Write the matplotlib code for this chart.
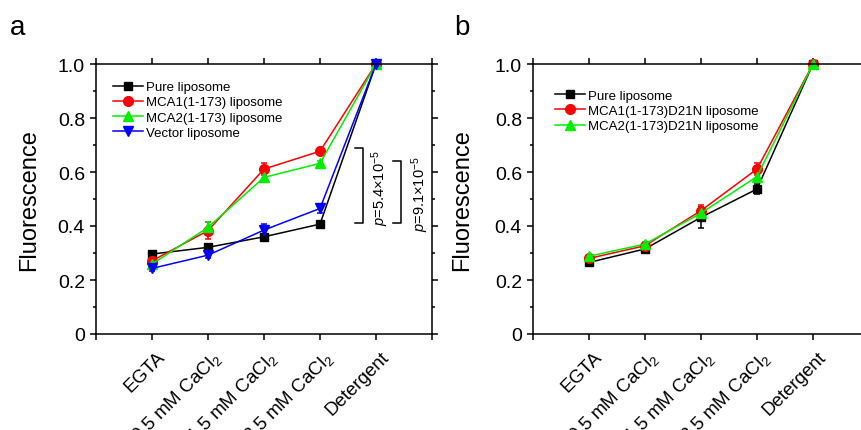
import matplotlib
matplotlib.use("Agg")
import matplotlib.pyplot as plt
import matplotlib.transforms as mtransforms
from matplotlib.ticker import MultipleLocator
from matplotlib.lines import Line2D

plt.rcParams['font.family'] = ['Liberation Sans', 'DejaVu Sans']
plt.rcParams['mathtext.fontset'] = 'custom'
plt.rcParams['mathtext.rm'] = 'Liberation Sans'
plt.rcParams['mathtext.it'] = 'Liberation Sans:italic'

categories = ['EGTA', '0.5 mM CaCl$_2$', '1.5 mM CaCl$_2$', '2.5 mM CaCl$_2$', 'Detergent']
xpos = [1, 2, 3, 4, 5]

# Panel a
a_pure = [0.296, 0.321, 0.360, 0.407, 1.0]
a_pure_err = [0.005, 0.008, 0.008, 0.006, 0.0]
a_mca1 = [0.271, 0.383, 0.611, 0.677, 1.0]
a_mca1_err = [0.010, 0.030, 0.022, 0.010, 0.0]
a_mca2 = [0.259, 0.395, 0.580, 0.632, 1.0]
a_mca2_err = [0.008, 0.020, 0.018, 0.008, 0.0]
a_vec = [0.243, 0.292, 0.385, 0.465, 1.0]
a_vec_err = [0.008, 0.010, 0.022, 0.015, 0.0]

# Panel b
b_pure = [0.265, 0.315, 0.432, 0.537, 1.0]
b_pure_err = [0.006, 0.008, 0.040, 0.020, 0.0]
b_mca1 = [0.280, 0.327, 0.457, 0.611, 1.0]
b_mca1_err = [0.006, 0.008, 0.020, 0.022, 0.0]
b_mca2 = [0.288, 0.333, 0.448, 0.583, 1.0]
b_mca2_err = [0.006, 0.008, 0.020, 0.020, 0.0]

a_labels = ['Pure liposome', 'MCA1(1-173) liposome', 'MCA2(1-173) liposome', 'Vector liposome']
b_labels = ['Pure liposome', 'MCA1(1-173)D21N liposome', 'MCA2(1-173)D21N liposome']
colors = ['#000000', '#ff0000', '#00ee00', '#0000ff']
markers = ['s', 'o', '^', 'v']
msizes = [6, 7, 7.5, 7.5]

W, H = 862, 431
fig = plt.figure(figsize=(W / 100, H / 100), dpi=100)

def px_axes(x0, y_top, w, h):
    return fig.add_axes([x0 / W, (H - y_top - h) / H, w / W, h / H])

axa = px_axes(96, 65, 336, 270)
axb = px_axes(533, 65, 336, 270)

def style(ax, ylabel_x):
    ax.set_xlim(0, 6)
    ax.set_ylim(0, 1.0)
    ax.set_xticks([0, 1, 2, 3, 4, 5, 6])
    ax.set_xticklabels([''] * 7)
    offset = mtransforms.ScaledTranslation(10 / 100, -20 / 100, fig.dpi_scale_trans)
    tr = ax.get_xaxis_transform() + offset
    for x, lab in zip(xpos, categories):
        ax.text(x, 0, lab, transform=tr, rotation=45, ha='right', va='center',
                rotation_mode='anchor', fontsize=13.5, clip_on=False)
    ax.yaxis.set_minor_locator(MultipleLocator(0.1))
    ax.set_yticks([0, 0.2, 0.4, 0.6, 0.8, 1.0])
    ax.set_yticklabels(['0', '0.2', '0.4', '0.6', '0.8', '1.0'], fontsize=14)
    ax.tick_params(which='both', direction='out', top=True, right=True, width=1.1)
    ax.tick_params(which='major', length=4, pad=4)
    ax.tick_params(which='minor', length=2.5)
    ax.tick_params(axis='x', which='minor', top=False, bottom=False)
    for s in ax.spines.values():
        s.set_linewidth(1.1)
    ax.set_ylabel('Fluorescence', fontsize=17)
    ax.yaxis.set_label_coords(ylabel_x, 0.5)

def series(ax, ys, errs, i):
    ax.errorbar(xpos, ys, yerr=errs, color=colors[i], marker=markers[i],
                markersize=msizes[i], linewidth=1.1, elinewidth=1.1,
                capsize=2.5, capthick=1.1, clip_on=False)

for i, (ys, es) in enumerate([(a_pure, a_pure_err), (a_mca1, a_mca1_err),
                              (a_mca2, a_mca2_err), (a_vec, a_vec_err)]):
    series(axa, ys, es, i)
for i, (ys, es) in enumerate([(b_pure, b_pure_err), (b_mca1, b_mca1_err),
                              (b_mca2, b_mca2_err)]):
    series(axb, ys, es, i)

style(axa, -0.167)
style(axb, -0.179)

def handles(n):
    return [Line2D([0], [0], color=colors[i], marker=markers[i],
                   markersize=msizes[i], linewidth=1.1) for i in range(n)]

leg_kw = dict(loc='upper left', frameon=False, fontsize=9.5, borderpad=0,
              borderaxespad=0, handlelength=2.3, handletextpad=0.25,
              labelspacing=0.22)
axa.legend(handles(4), a_labels, bbox_to_anchor=(0.05, 0.937), **leg_kw)
axb.legend(handles(3), b_labels, bbox_to_anchor=(0.065, 0.905), **leg_kw)

# significance brackets
def bracket(ax, x_arm, x_line, y0, y1, text, x_text, y_text):
    ax.plot([x_arm, x_line, x_line, x_arm], [y1, y1, y0, y0], color='black',
            linewidth=1.1, clip_on=False)
    ax.text(x_text, y_text, text, rotation=90, ha='center', va='center', fontsize=10.5)

bracket(axa, 4.63, 4.77, 0.41, 0.69, r'$p$=5.4×10$^{-5}$', 5.08, 0.545)
bracket(axa, 5.30, 5.45, 0.41, 0.642, r'$p$=9.1×10$^{-5}$', 5.79, 0.522)

fig.text(18 / W, 1 - 28 / H, 'a', fontsize=20, ha='center', va='center')
fig.text(462 / W, 1 - 28 / H, 'b', fontsize=20, ha='center', va='center')

fig.savefig('out.png', dpi=100)
